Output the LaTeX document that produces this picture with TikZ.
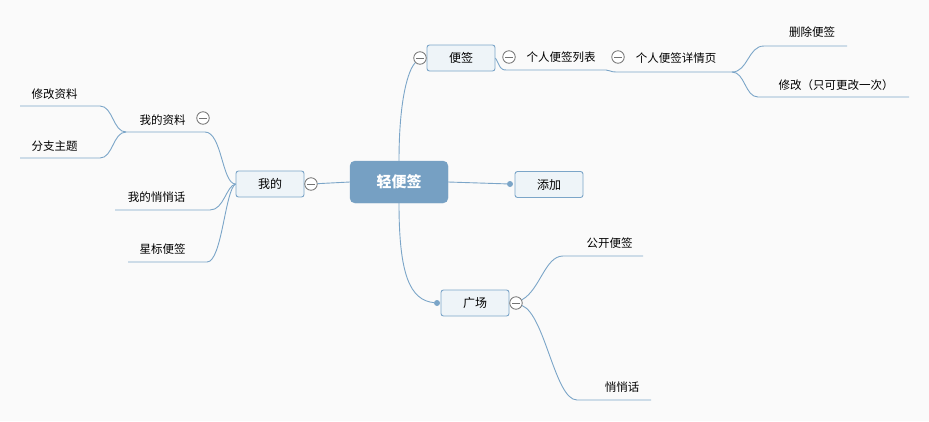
\documentclass[tikz,border=0pt]{standalone}
\usepackage{fontspec}
\setmainfont{Noto Sans CJK SC}
\definecolor{bgc}{HTML}{FAFAFA}
\definecolor{linec}{HTML}{7BA5C8}
\definecolor{rootc}{HTML}{76A0C3}
\definecolor{topicc}{HTML}{EEF4F8}
\tikzset{
  centraltopic/.style={draw=rootc, fill=rootc, rounded corners=5pt, minimum width=98, minimum height=42, text=white, font=\fontsize{15}{18}\selectfont\bfseries},
  topic/.style={draw=linec, line width=0.9pt, fill=topicc, rounded corners=2.5pt, minimum width=68, minimum height=26, font=\fontsize{12}{14}\selectfont},
  leaf/.style={inner sep=0pt, font=\fontsize{11.5}{13}\selectfont},
  fold/.style={circle, draw=black!55, line width=0.8pt, fill=white, inner sep=0pt, minimum size=12.5, path picture={\draw[black!55, line width=0.8pt] ([xshift=-4pt]path picture bounding box.center) -- ([xshift=4pt]path picture bounding box.center);}},
  knob/.style={circle, fill=linec, inner sep=0pt, minimum size=6},
  link/.style={draw=linec, line width=0.9pt}
}
\begin{document}
\begin{tikzpicture}[x=1pt, y=-1pt]

    %background:
    \fill[bgc] (0,0) rectangle (929,421);
    \useasboundingbox (0,0) rectangle (929,421);

    %topics:
    \node[centraltopic] (root) at (399,182) {轻便签};
    \node[topic] (notes) at (461,58) {便签};
    \node[topic] (add) at (549,184.5) {添加};
    \node[topic] (square) at (475,303) {广场};
    \node[topic] (mine) at (270,184) {我的};

    %fold marks and knobs:
    \node[fold] (fNotes) at (420,58) {};
    \node[fold] (fList) at (509,57) {};
    \node[fold] (fDetail) at (618,57) {};
    \node[fold] (fProfile) at (203,118) {};
    \node[fold] (fMine) at (311,184) {};
    \node[fold] (fSquare) at (516,303) {};
    \node[knob] (kAdd) at (510,184) {};
    \node[knob] (kSquare) at (437,303) {};

    %labels:
    \node[leaf] (list) at (561,57) {个人便签列表};
    \node[leaf] (detail) at (676,58) {个人便签详情页};
    \node[leaf] (del) at (812,32) {删除便签};
    \node[leaf] (mod) at (836,85) {修改（只可更改一次）};
    \node[leaf] (profile) at (162.5,120) {我的资料};
    \node[leaf] (edit) at (54.5,94) {修改资料};
    \node[leaf] (theme) at (54.5,146) {分支主题};
    \node[leaf] (whisper) at (156.5,197) {我的悄悄话};
    \node[leaf] (star) at (162.5,249) {星标便签};
    \node[leaf] (public) at (609.5,243) {公开便签};
    \node[leaf] (secret) at (622,387) {悄悄话};

    %underline ends:
    \coordinate (listL) at (507,70);   \coordinate (listR) at (606,70);
    \coordinate (detailL) at (616,72); \coordinate (detailR) at (732,72);
    \coordinate (delL) at (764,46);    \coordinate (delR) at (847,46);
    \coordinate (modL) at (758,97);    \coordinate (modR) at (909,97);
    \coordinate (profileL) at (126,132); \coordinate (profileR) at (205,132);
    \coordinate (editL) at (20,106);   \coordinate (editR) at (100,106);
    \coordinate (themeL) at (20,158);  \coordinate (themeR) at (100,158);
    \coordinate (whisperL) at (115,210); \coordinate (whisperR) at (210,210);
    \coordinate (starL) at (128,262);  \coordinate (starR) at (207,262);
    \coordinate (publicL) at (563,256); \coordinate (publicR) at (643,256);
    \coordinate (secretL) at (577,400); \coordinate (secretR) at (651,400);

    %connectors from the root:
    \draw[link] (root.east) -- (kAdd);
    \draw[link] (root.north) .. controls (399,100) and (408,70) .. (fNotes);
    \draw[link] (root.south) .. controls (399,275) and (410,300) .. (kSquare);
    \draw[link] (root.west) -- (fMine);

    %notes branch:
    \draw[link] (notes.east) .. controls (501,68) and (500,70) .. (listL) -- (listR)
        .. controls (610,70) and (610,72) .. (detailL) -- (detailR);
    \draw[link] (detailR) .. controls (748,72) and (748,46) .. (delL) -- (delR);
    \draw[link] (detailR) .. controls (745,72) and (745,97) .. (modL) -- (modR);

    %mine branch:
    \draw[link] (mine.west) .. controls (222,184) and (222,132) .. (profileR) -- (profileL);
    \draw[link] (profileL) .. controls (113,132) and (113,106) .. (editR) -- (editL);
    \draw[link] (profileL) .. controls (113,132) and (113,158) .. (themeR) -- (themeL);
    \draw[link] (mine.west) .. controls (226,186) and (224,210) .. (whisperR) -- (whisperL);
    \draw[link] (mine.west) .. controls (225,190) and (222,262) .. (starR) -- (starL);

    %square branch:
    \draw[link] (fSquare) .. controls (540,290) and (545,256) .. (publicL) -- (publicR);
    \draw[link] (fSquare) .. controls (545,315) and (555,400) .. (secretL) -- (secretR);

\end{tikzpicture}
\end{document}
